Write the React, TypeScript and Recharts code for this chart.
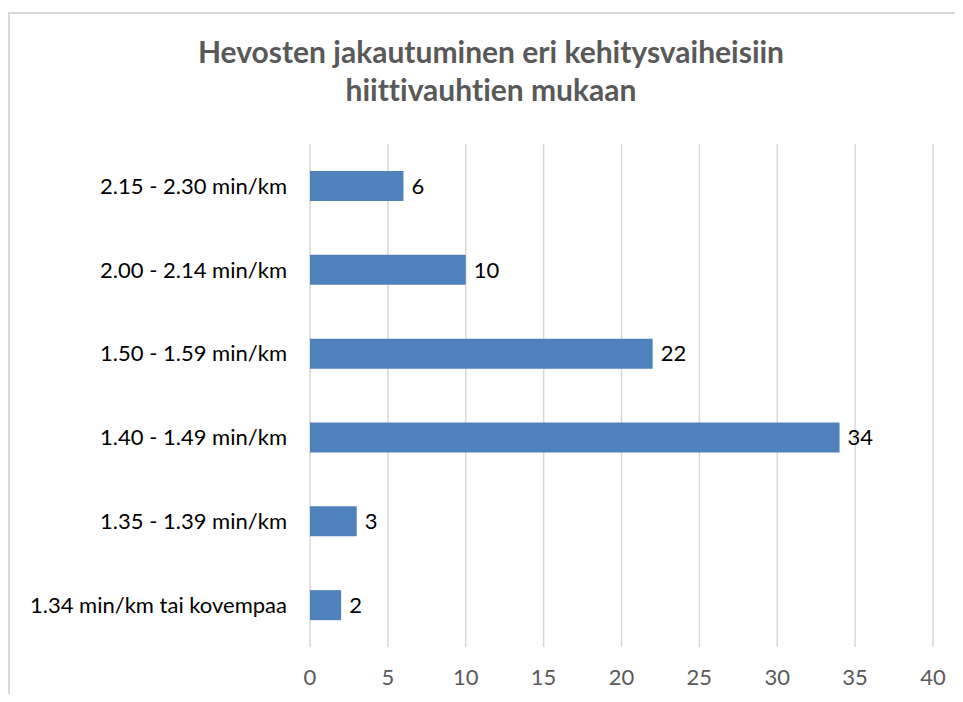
import { BarChart, Bar, XAxis, YAxis, CartesianGrid, LabelList } from 'recharts'

const categories = [
  '2.15 - 2.30 min/km',
  '2.00 - 2.14 min/km',
  '1.50 - 1.59 min/km',
  '1.40 - 1.49 min/km',
  '1.35 - 1.39 min/km',
  '1.34 min/km tai kovempaa',
]
const counts = [6, 10, 22, 34, 3, 2]
const xTicks = [0, 5, 10, 15, 20, 25, 30, 35, 40]
const titleLines = ['Hevosten jakautuminen eri kehitysvaiheisiin', 'hiittivauhtien mukaan']

const data = categories.map((name, i) => ({ name, value: counts[i] }))

const FONT = 'Lato, "Open Sans", sans-serif'

export default function App() {
  return (
    <div
      style={{
        position: 'relative',
        width: 963,
        height: 702,
        margin: -8,
        overflow: 'hidden',
        background: '#fff',
        fontFamily: FONT,
        fontVariantLigatures: 'none',
      }}
    >
      <div
        style={{
          position: 'absolute',
          left: 8,
          top: 12,
          width: 1000,
          height: 800,
          border: '2px solid #d9d9d9',
          boxSizing: 'border-box',
        }}
      />
      <svg width={963} height={120} style={{ position: 'absolute', left: 0, top: 0 }}>
        {titleLines.map((t, i) => (
          <text
            key={i}
            x={491}
            y={63 + i * 38}
            textAnchor="middle"
            fill="#595959"
            fontFamily={FONT}
            fontWeight="bold"
            fontSize={30}
          >
            {t}
          </text>
        ))}
      </svg>
      <div style={{ position: 'absolute', left: 0, top: 0 }}>
        <BarChart
          width={963}
          height={702}
          data={data}
          layout="vertical"
          margin={{ top: 144, right: 30, bottom: 25, left: 0 }}
        >
          <CartesianGrid horizontal={false} stroke="#d9d9d9" strokeWidth={1.5} />
          <XAxis
            type="number"
            domain={[0, 40]}
            ticks={xTicks}
            height={30}
            axisLine={false}
            tickLine={false}
            tickSize={0}
            tickMargin={22}
            tick={{ fill: '#595959', fontSize: 22, fontFamily: FONT }}
          />
          <YAxis
            type="category"
            dataKey="name"
            width={310}
            axisLine={false}
            tickLine={false}
            tickSize={0}
            tickMargin={23}
            tick={{ fill: '#000', fontSize: 22, fontFamily: FONT }}
          />
          <Bar dataKey="value" fill="#4f81bd" barSize={30} isAnimationActive={false}>
            <LabelList dataKey="value" position="right" offset={8} fill="#000" fontSize={22} fontFamily={FONT} />
          </Bar>
        </BarChart>
      </div>
    </div>
  )
}
